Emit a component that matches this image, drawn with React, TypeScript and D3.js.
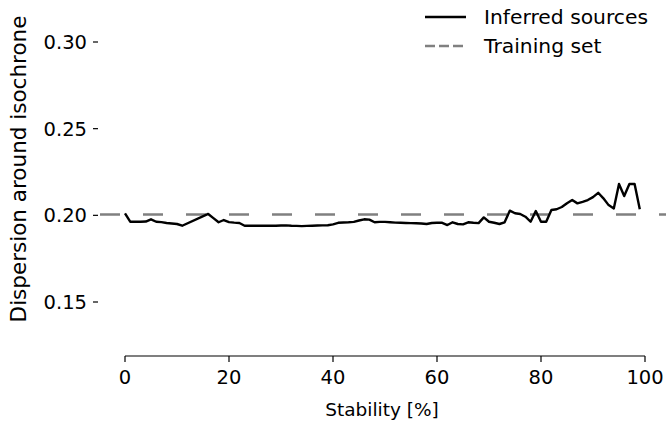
import React from "react";
import * as d3 from "d3";

const stability = [
  0, 1, 2, 3, 4, 5, 6, 7, 8, 9, 10, 11,
  16, 17, 18, 19, 20, 21, 22, 23, 24, 25, 26, 27, 28, 29,
  30, 31, 32, 33, 34, 35, 36, 37, 38, 39,
  40, 41, 42, 43, 44, 45, 46, 47, 48, 49,
  50, 51, 52, 53, 54, 55, 56, 57, 58, 59,
  60, 61, 62, 63, 64, 65, 66, 67, 68, 69,
  70, 71, 72, 73, 74, 75, 76, 77, 78, 79,
  80, 81, 82, 83, 84, 85, 86, 87, 88, 89,
  90, 91, 92, 93, 94, 95, 96, 97, 98, 99,
];
const dispersion = [
  0.2012, 0.1963, 0.1963, 0.1963, 0.1964, 0.1977, 0.1963, 0.1961, 0.1956, 0.1953, 0.195, 0.194,
  0.2008, 0.1984, 0.196, 0.1973, 0.1961, 0.1958, 0.1956, 0.194, 0.194, 0.194, 0.194, 0.194, 0.194, 0.194,
  0.1941, 0.1942, 0.194, 0.1939, 0.1938, 0.1939, 0.194, 0.1941, 0.1942, 0.1943,
  0.1948, 0.1957, 0.1959, 0.196, 0.1962, 0.197, 0.1977, 0.1975, 0.196, 0.1962,
  0.1962, 0.196, 0.1958, 0.1957, 0.1956, 0.1955, 0.1954, 0.1953, 0.195, 0.1956,
  0.1957, 0.1957, 0.1944, 0.196, 0.195, 0.1948, 0.196, 0.1957, 0.1955, 0.1988,
  0.1963, 0.1957, 0.195, 0.196, 0.2027, 0.2012, 0.2008, 0.1992, 0.1963, 0.2025,
  0.1963, 0.1963, 0.2031, 0.2035, 0.2048, 0.207, 0.2088, 0.2069, 0.2078, 0.2088,
  0.2105, 0.213, 0.2098, 0.2059, 0.204, 0.2181, 0.2111, 0.2181, 0.2181, 0.2035,
];
const trainingSet = 0.2005;
const xTicks = [0, 20, 40, 60, 80, 100];
const yTicks = [0.15, 0.2, 0.25, 0.3];
const legendLabels = ["Inferred sources", "Training set"];

const W = 666;
const H = 428;
const FONT = "DejaVu Sans, sans-serif";

export default function App() {
  const x = d3.scaleLinear().domain([0, 100]).range([125, 645]);
  const y = d3.scaleLinear().domain([0.15, 0.3]).range([302, 42]);
  const axisY = 356;

  const pts: [number, number][] = stability.map((s, i) => [s, dispersion[i]]);
  const line = d3
    .line<[number, number]>()
    .x((d) => x(d[0]))
    .y((d) => y(d[1]));

  return (
    <svg
      width={W}
      height={H}
      style={{ position: "absolute", left: 0, top: 0, background: "#fff" }}
      fontFamily={FONT}
    >
      {/* training set dashed line */}
      <line
        x1={100}
        x2={W}
        y1={y(trainingSet)}
        y2={y(trainingSet)}
        stroke="#808080"
        strokeWidth={2.6}
        strokeDasharray="20 23"
      />
      {/* inferred line */}
      <path d={line(pts) || ""} fill="none" stroke="#000" strokeWidth={2.4} strokeLinejoin="round" />

      {/* x axis */}
      <line x1={x(0)} x2={x(100)} y1={axisY} y2={axisY} stroke="#000" strokeWidth={1.2} />
      {xTicks.map((t) => (
        <g key={t}>
          <line x1={x(t)} x2={x(t)} y1={axisY} y2={axisY + 6} stroke="#000" strokeWidth={1.2} />
          <text x={x(t)} y={383.5} fontSize={19.5} textAnchor="middle" fill="#000">
            {t}
          </text>
        </g>
      ))}
      <text x={382} y={416} fontSize={18.5} textAnchor="middle" fill="#000">
        Stability [%]
      </text>

      {/* y axis ticks */}
      {yTicks.map((t) => (
        <g key={t}>
          <line x1={93} x2={98} y1={y(t)} y2={y(t)} stroke="#000" strokeWidth={1.2} />
          <text x={87} y={y(t) + 7} fontSize={19.5} textAnchor="end" fill="#000">
            {t.toFixed(2)}
          </text>
        </g>
      ))}
      <text
        transform={`translate(26, 169) rotate(-90)`}
        fontSize={21.5}
        textAnchor="middle"
        fill="#000"
      >
        Dispersion around isochrone
      </text>

      {/* legend */}
      <line x1={425} x2={466} y1={17} y2={17} stroke="#000" strokeWidth={2.4} />
      <text x={484} y={23.5} fontSize={20.3} fill="#000">
        {legendLabels[0]}
      </text>
      <line
        x1={425}
        x2={466}
        y1={46}
        y2={46}
        stroke="#808080"
        strokeWidth={2.4}
        strokeDasharray="10 4"
      />
      <text x={484} y={52.5} fontSize={20.3} fill="#000">
        {legendLabels[1]}
      </text>
    </svg>
  );
}
